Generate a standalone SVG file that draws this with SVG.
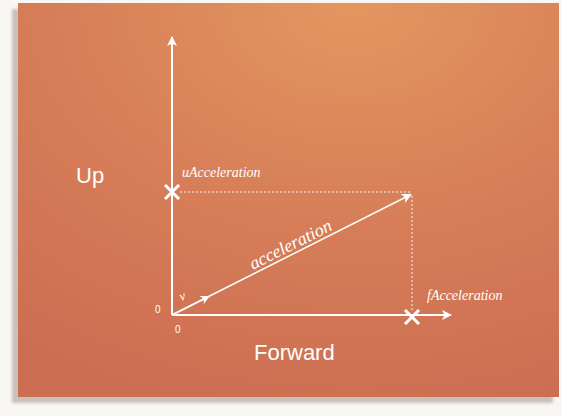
<svg xmlns="http://www.w3.org/2000/svg" width="562" height="416" viewBox="0 0 562 416">
<defs>
<radialGradient id="bg" cx="0.62" cy="0" r="1.05" fx="0.62" fy="0">
<stop offset="0" stop-color="#e3975f"/>
<stop offset="0.55" stop-color="#d67d58"/>
<stop offset="1" stop-color="#cc6e52"/>
</radialGradient>
<filter id="blur" x="-5%" y="-5%" width="110%" height="110%"><feGaussianBlur stdDeviation="1.5"/></filter>
<marker id="ah" viewBox="0 0 10 10" refX="9" refY="5" markerWidth="10" markerHeight="10" markerUnits="userSpaceOnUse" orient="auto">
<path d="M0,0 L10,5 L0,10 L2.5,5 Z" fill="#fff"/>
</marker>
<marker id="ahs" viewBox="0 0 10 10" refX="9" refY="5" markerWidth="9" markerHeight="9" markerUnits="userSpaceOnUse" orient="auto">
<path d="M0,0 L10,5 L0,10 L2.5,5 Z" fill="#fff"/>
</marker>
</defs>
<style>
.axis{stroke:#fff;stroke-width:2;fill:none}
.vec{stroke:#fff;stroke-width:1.5;fill:none}
.dash{stroke:#fff;stroke-width:1;stroke-dasharray:2,2;fill:none;opacity:0.9}
.cross{stroke:#fff;stroke-width:3;fill:none}
.it{font-family:"Liberation Serif",serif;font-style:italic;fill:#fff}
.sans{font-family:"Liberation Sans",Arial,sans-serif;fill:#fff}
</style>
<rect width="562" height="416" fill="#f9f7f3"/>
<rect x="12" y="9" width="541" height="394" fill="#c9c0ba" filter="url(#blur)"/>
<rect x="18" y="3" width="541" height="394" fill="url(#bg)"/>
<g id="connectors">
<line class="axis" x1="172" y1="315" x2="172" y2="37" marker-end="url(#ah)"/>
<line class="axis" x1="172" y1="315" x2="451" y2="315" marker-end="url(#ah)"/>
<line class="dash" x1="180" y1="192" x2="412" y2="192"/>
<line class="dash" x1="412" y1="196" x2="412" y2="310"/>
<line class="vec" x1="172" y1="315" x2="411" y2="194.5" marker-end="url(#ah)"/>
<line class="vec" x1="172" y1="315" x2="209" y2="296.4" marker-end="url(#ahs)"/>
</g>
<g id="uAcceleration">
<path class="cross" d="M165,185 L179,199 M179,185 L165,199"/>
<text class="it" x="182" y="177" font-size="14">uAcceleration</text>
</g>
<g id="fAcceleration">
<path class="cross" d="M405,310 L419,324 M419,310 L405,324"/>
<text class="it" x="427" y="300" font-size="14">fAcceleration</text>
</g>
<g id="acceleration">
<text class="it" font-size="18" transform="translate(253,270) rotate(-26.7)">acceleration</text>
</g>
<g id="v">
<text class="it" font-size="13" transform="translate(181,301) rotate(-20)">v</text>
</g>
<g id="origin">
<text class="sans" x="155" y="313" font-size="10">0</text>
<text class="sans" x="175" y="333" font-size="10">0</text>
</g>
<g id="labels">
<text class="sans" x="76" y="183" font-size="22">Up</text>
<text class="sans" x="254" y="360" font-size="22">Forward</text>
</g>
</svg>
